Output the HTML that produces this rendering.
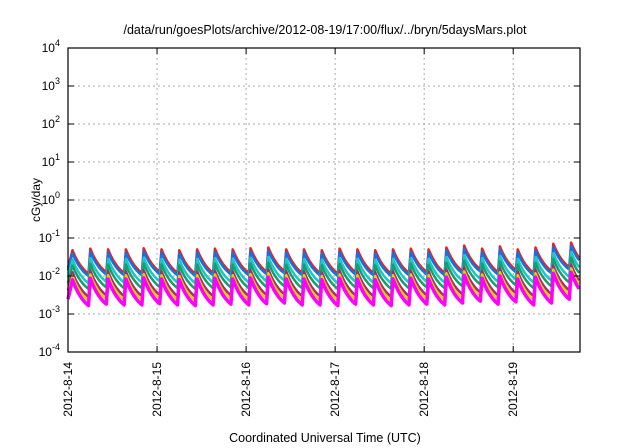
<!DOCTYPE html>
<html><head><meta charset="utf-8"><style>
body{margin:0;background:#fff}
svg{display:block;font-family:"Liberation Sans",sans-serif}
</style></head><body>
<svg id="c" width="640" height="448">
<rect width="640" height="448" fill="#fff"/>
<text x="325" y="34" font-size="12.5" text-anchor="middle">/data/run/goesPlots/archive/2012-08-19/17:00/flux/../bryn/5daysMars.plot</text>
<text transform="translate(40,200) rotate(-90)" font-size="12" text-anchor="middle">cGy/day</text>
<text x="325" y="442" font-size="12.5" text-anchor="middle">Coordinated Universal Time (UTC)</text>
<g id="grid"></g><g id="series"></g><g id="axes"></g>
</svg>
<script>
const yTickExps=[-4,-3,-2,-1,0,1,2,3,4];
const xTickLabels=["2012-8-14","2012-8-15","2012-8-16","2012-8-17","2012-8-18","2012-8-19"];
// log10 of top-series peak values per cycle (every 0.2 day)
const peakLog=[-1.32,-1.28,-1.3,-1.3,-1.27,-1.3,-1.32,-1.3,-1.28,-1.3,-1.27,-1.25,-1.3,-1.3,-1.32,-1.28,-1.3,-1.32,-1.3,-1.28,-1.3,-1.25,-1.2,-1.28,-1.22,-1.3,-1.25,-1.15,-1.12];
const seriesNames=["red","blue","cyan","green","brown","yellow","magenta"];
const seriesColors=["#e8241c","#1a6fe0","#19c6c8","#14a06a","#a0306a","#e8d000","#ff00ff"];
const seriesOffset=[0,-0.08,-0.25,-0.4,-0.58,-0.68,-0.78];
const troughDrop=[0.62,0.6,0.62,0.62,0.65,0.65,0.68];
const L=68,R=580,T=48,B=352;
const xs=d=>L+d*(R-L)/5.75;
const ys=e=>B-(e+4)*(B-T)/8;
const ns="http://www.w3.org/2000/svg";
const mk=(t,a,p)=>{const e=document.createElementNS(ns,t);for(const k in a)e.setAttribute(k,a[k]);p.appendChild(e);return e;};
const grid=document.getElementById('grid'),axes=document.getElementById('axes'),ser=document.getElementById('series');
yTickExps.forEach(e=>{
 const y=ys(e);
 if(e>-4&&e<4){const g=mk('line',{x1:L,x2:R,y1:y,y2:y,stroke:'#aaa','stroke-dasharray':'2,3','stroke-width':1},grid);
 
 }
 mk('line',{x1:L,x2:L+6,y1:y,y2:y,stroke:'#000'},axes);
 mk('line',{x1:R,x2:R-6,y1:y,y2:y,stroke:'#000'},axes);
 const t=mk('text',{x:L-8,y:y+4,'font-size':12,'text-anchor':'end'},axes);
 
 
 t.innerHTML='10<tspan dy="-6" font-size="9">'+e+'</tspan>';
});
xTickLabels.forEach((s,i)=>{
 const x=xs(i);
 if(i>0){const g=mk('line',{x1:x,x2:x,y1:T,y2:B,stroke:'#aaa','stroke-dasharray':'2,3'},grid);
 
 }
 mk('line',{x1:x,x2:x,y1:B,y2:B-6,stroke:'#000'},axes);
 mk('line',{x1:x,x2:x,y1:T,y2:T+6,stroke:'#000'},axes);
 const t=mk('text',{transform:`translate(${x+4},${B+10}) rotate(-90)`,'font-size':12,'text-anchor':'end'},axes);
 
 
 t.textContent=s;
});
const fr=mk('rect',{x:L,y:T,width:R-L,height:B-T,fill:'none',stroke:'#000','stroke-width':1.2},axes);


seriesNames.forEach((n,s)=>{
 let pts=[];
 peakLog.forEach((p,i)=>{
  const t0=0.05+i*0.2, pk=p+seriesOffset[s];
  if(i===0){pts.push([0,pk-troughDrop[s]*0.75]);}
  else{pts.push([t0-0.02,(peakLog[i-1]+seriesOffset[s])-troughDrop[s]]);}
  for(let k=0;k<=6;k++){const f=k/6;const tt=t0+f*0.18;
   pts.push([tt,pk-troughDrop[s]*(1-Math.exp(-1.2*f))/(1-Math.exp(-1.2))]);}
 });
 pts=pts.filter(q=>q[0]<=5.75);
 const pl=mk('polyline',{points:pts.map(q=>xs(q[0]).toFixed(1)+','+ys(q[1]).toFixed(1)).join(' '),fill:'none',stroke:seriesColors[s],'stroke-width':s===6?3.5:2.5,'stroke-linejoin':'round'},ser);
 
 
});
</script>
</body></html>
